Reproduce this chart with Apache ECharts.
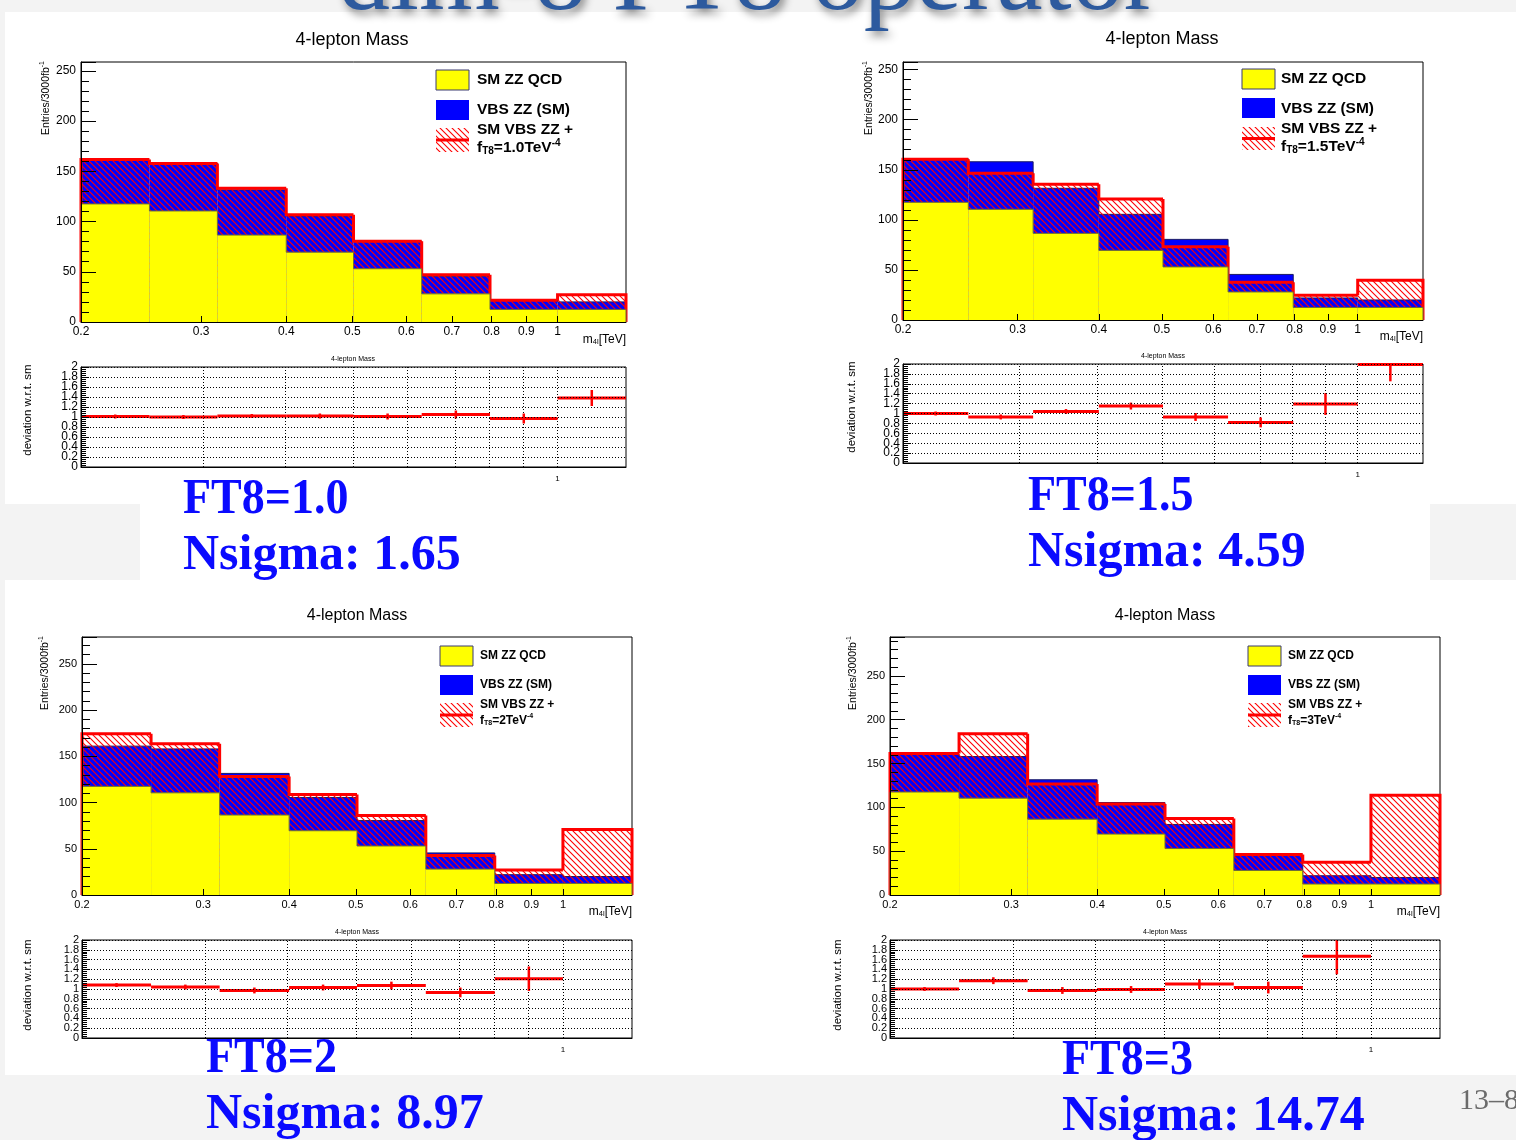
<!DOCTYPE html>
<html><head><meta charset="utf-8">
<script src="https://cdn.jsdelivr.net/npm/echarts@6/dist/echarts.min.js"></script>
<style>html,body{margin:0;padding:0;background:#fff}#c{width:1516px;height:1140px}</style>
</head><body><div id="c"></div>
<script>
// ---------------- data ----------------
const binEdges = [0.2, 0.252, 0.317, 0.4, 0.502, 0.632, 0.796, 1.0, 1.26];
const xTickValues = [0.2, 0.3, 0.4, 0.5, 0.6, 0.7, 0.8, 0.9, 1];
const xTickLabels = ['0.2', '0.3', '0.4', '0.5', '0.6', '0.7', '0.8', '0.9', '1'];
const ratioLabelsEven = [0, 0.4, 0.8, 1.2, 1.6, 2];
const ratioLabelsOdd  = [0.2, 0.6, 1, 1.4, 1.8];

const smZZQCD    = [117.5, 110.5, 86.5, 69.5, 53.0, 28.0, 12.5, 12.5];
const vbsZZSM    = [43.5, 47.5, 45.0, 36.0, 27.5, 17.5, 9.5, 7.5];
const vbsFT8_1p0 = [44.2, 47.2, 46.6, 37.1, 27.3, 19.1, 9.1, 14.7];
const vbsFT8_1p5 = [42.9, 36.1, 49.1, 51.3, 20.2, 9.6, 12.3, 27.1];
const vbsFT8_2   = [56.9, 53.0, 41.7, 39.2, 32.9, 14.6, 14.6, 58.3];
const vbsFT8_3   = [44.0, 73.5, 40.2, 34.3, 34.4, 18.2, 24.9, 101.2];

const ratioFT8_1p0 = [1.01, 1.00, 1.02, 1.02, 1.01, 1.05, 0.97, 1.38];
const errFT8_1p0   = [0.04, 0.04, 0.04, 0.05, 0.06, 0.08, 0.10, 0.16];
const ratioFT8_1p5 = [1.00, 0.93, 1.04, 1.15, 0.93, 0.82, 1.19, 1.99];
const errFT8_1p5   = [0.04, 0.05, 0.05, 0.07, 0.08, 0.10, 0.22, 0.34];
const ratioFT8_2   = [1.08, 1.04, 0.97, 1.03, 1.07, 0.93, 1.21, null];
const errFT8_2     = [0.04, 0.05, 0.06, 0.06, 0.08, 0.10, 0.25, null];
const ratioFT8_3   = [1.00, 1.17, 0.97, 0.99, 1.10, 1.03, 1.67, null];
const errFT8_3     = [0.04, 0.07, 0.07, 0.07, 0.10, 0.12, 0.37, null];

const ft8Values    = ['1.0', '1.5', '2', '3'];
const ft8Labels    = ['FT8=1.0', 'FT8=1.5', 'FT8=2', 'FT8=3'];
const nsigmaLabels = ['Nsigma: 1.65', 'Nsigma: 4.59', 'Nsigma: 8.97', 'Nsigma: 14.74'];
const legendNames  = ['SM ZZ QCD', 'VBS ZZ (SM)', 'SM VBS ZZ +'];
const plotTitle = '4-lepton Mass';
const slideTitle = 'dim-8 FT8 operator';
const pageNumber = '13\u20138';

// ---------------- layout ----------------
const SANS = "'Liberation Sans', Arial, Helvetica, sans-serif";
const SERIF = "'Liberation Serif', 'Times New Roman', serif";
const layout = [
  {main:[81,62,545,260], ratio:[81,367,545,100], fs:12, lfs:15.5, tfs:18, title:[352,40], ytitle:[45,61], rtitle:[353,359], rytitle:[28,410], xname:[626,339],
   leg:{bx:436, tx:477, yb:[70,100,128], yt:[80,110,130,147], hb:24}, big:[183,496,552]},
  {main:[903,62,520,258], ratio:[903,364,520,99], fs:12, lfs:15.5, tfs:18, title:[1162,39], ytitle:[868,61], rtitle:[1163,356], rytitle:[852,407], xname:[1423,336],
   leg:{bx:1242, tx:1281, yb:[69,98,127], yt:[79,109,129,146], hb:23}, big:[1028,493,549]},
  {main:[82,637,550,258], ratio:[82,940,550,98], fs:11, lfs:12, tfs:16, title:[357,616], ytitle:[44,636], rtitle:[357,932], rytitle:[28,985], xname:[632,911],
   leg:{bx:440, tx:480, yb:[646,675,703], yt:[656,685,705,720], hb:24}, big:[206,1055,1111]},
  {main:[890,637,550,258], ratio:[890,940,550,98], fs:11, lfs:12, tfs:16, title:[1165,616], ytitle:[852,636], rtitle:[1165,932], rytitle:[838,985], xname:[1440,911],
   leg:{bx:1248, tx:1288, yb:[646,675,703], yt:[656,685,705,720], hb:24}, big:[1062,1057,1113]}
];
const bsmSets = [vbsFT8_1p0, vbsFT8_1p5, vbsFT8_2, vbsFT8_3];
const ratioSets = [ratioFT8_1p0, ratioFT8_1p5, ratioFT8_2, ratioFT8_3];
const errSets = [errFT8_1p0, errFT8_1p5, errFT8_2, errFT8_3];

const L = Math.log10;
const X_MIN = L(binEdges[0]), X_MAX = L(binEdges[binEdges.length - 1]);
const fmtX = v => { const m = Math.pow(10, v); const k = xTickValues.findIndex(t => Math.abs(t - m) < 1e-3); return k >= 0 ? xTickLabels[k] : ''; };
const fmtR = v => String(Math.round(v * 10) / 10);

function makeHatch() {
  const c = document.createElement('canvas'); c.width = 6; c.height = 6;
  const g = c.getContext('2d'); g.strokeStyle = '#ff0000'; g.lineWidth = 1.1;
  g.beginPath(); g.moveTo(-1,-1); g.lineTo(7,7); g.moveTo(5,-1); g.lineTo(7,1); g.moveTo(-1,5); g.lineTo(1,7); g.stroke();
  return c;
}
const hatch = {image: makeHatch(), repeat: 'repeat'};

const grids = [], xAxes = [], yAxes = [], series = [], graphics = [];

function stepSeries(xi, yi, tops, opts) {
  const data = tops.map((v, i) => [L(binEdges[i]), L(binEdges[i+1]), v, i > 0 ? tops[i-1] : 0, i === tops.length - 1 ? 1 : 0]);
  return {
    type: 'custom', xAxisIndex: xi, yAxisIndex: yi, z: opts.z, silent: true, animation: false,
    encode: {x: [0, 1], y: 2}, data,
    renderItem: (params, api) => {
      const x0 = api.value(0), x1 = api.value(1), v = api.value(2), prev = api.value(3), last = api.value(4);
      const a = api.coord([x0, 0]), b = api.coord([x1, v]), pp = api.coord([x0, prev]);
      const ch = [];
      if (opts.fill) ch.push({type: 'rect', shape: {x: a[0], y: b[1], width: b[0] - a[0], height: a[1] - b[1]}, style: {fill: opts.fill}});
      if (opts.stroke) {
        const pts = [[a[0], pp[1]], [a[0], b[1]], [b[0], b[1]]];
        if (last) pts.push([b[0], a[1]]);
        ch.push({type: 'polyline', shape: {points: pts}, style: {stroke: opts.stroke, lineWidth: opts.lw, fill: 'none', lineJoin: 'miter'}});
      }
      return {type: 'group', children: ch};
    }
  };
}

function txt(x, y, text, o) {
  return {type: 'text', x, y, z: o.z != null ? o.z : 50, silent: true, rotation: o.rot || 0, scaleX: o.sx || 1,
    style: {text, fill: o.color || '#000', fontSize: o.size, fontFamily: o.family || SANS, fontWeight: o.weight || 'normal',
      align: o.align || 'left', verticalAlign: o.va || 'middle', rich: o.rich,
      textShadowColor: o.shadow ? 'rgba(0,0,0,0.45)' : undefined, textShadowBlur: o.shadow ? 8 : 0,
      textShadowOffsetX: o.shadow ? 3 : 0, textShadowOffsetY: o.shadow ? 5 : 0}};
}

// background of the slide
graphics.push({type: 'rect', z: -20, silent: true, shape: {x: 0, y: 0, width: 1516, height: 1140}, style: {fill: '#f3f3f3'}});
graphics.push({type: 'rect', z: -19, silent: true, shape: {x: 5, y: 12, width: 1511, height: 492}, style: {fill: '#ffffff'}});
graphics.push({type: 'rect', z: -19, silent: true, shape: {x: 140, y: 500, width: 1290, height: 85}, style: {fill: '#ffffff'}});
graphics.push({type: 'rect', z: -19, silent: true, shape: {x: 5, y: 580, width: 1511, height: 495}, style: {fill: '#ffffff'}});
graphics.push(txt(338, -18, slideTitle, {size: 104, family: SERIF, color: '#2d5a9e', shadow: true, z: 60}));
graphics.push(txt(1459, 1101, pageNumber, {size: 30, family: SERIF, color: '#6b6b6b'}));

layout.forEach((P, p) => {
  const gMain = grids.length;
  grids.push({left: P.main[0], top: P.main[1], width: P.main[2], height: P.main[3], show: true, borderColor: '#000', borderWidth: 1, backgroundColor: 'transparent'});
  const gRatio = grids.length;
  grids.push({left: P.ratio[0], top: P.ratio[1], width: P.ratio[2], height: P.ratio[3], show: true, borderColor: '#000', borderWidth: 1, backgroundColor: 'transparent'});

  const bsm = bsmSets[p];
  const qcdTop = smZZQCD.slice();
  const smTop = smZZQCD.map((q, i) => q + vbsZZSM[i]);
  const bsmTop = smZZQCD.map((q, i) => q + bsm[i]);
  const yMax = 1.6 * Math.max(...smTop, ...bsmTop);

  // main axes
  const xMain = xAxes.length;
  xAxes.push({gridIndex: gMain, type: 'value', position: 'bottom', min: X_MIN, max: X_MAX, z: 10,
    axisLine: {onZero: false, lineStyle: {color: '#000', width: 1}},
    axisTick: {show: true, inside: true, length: 6, customValues: xTickValues.map(L), lineStyle: {color: '#000'}},
    axisLabel: {customValues: xTickValues.map(L), formatter: fmtX, fontFamily: SANS, fontSize: P.fs, color: '#000', margin: 4},
    splitLine: {show: false}});
  const yMain = yAxes.length;
  yAxes.push({gridIndex: gMain, type: 'value', position: 'left', min: 0, max: yMax, interval: 10, z: 10,
    axisLine: {onZero: false, lineStyle: {color: '#000', width: 1}},
    axisTick: {show: true, inside: true, length: 8, lineStyle: {color: '#000'}},
    axisLabel: {formatter: v => (Math.abs(v % 50) < 1e-6 ? String(v) : ''), fontFamily: SANS, fontSize: P.fs, color: '#000', margin: 5, showMaxLabel: false},
    splitLine: {show: false}});
  yAxes.push({gridIndex: gMain, type: 'value', position: 'left', offset: 0, min: 0, max: yMax, interval: 50, z: 10,
    axisLine: {show: false, onZero: false}, axisLabel: {show: false},
    axisTick: {show: true, inside: true, length: 15, lineStyle: {color: '#000'}},
    splitLine: {show: false}});

  series.push(stepSeries(xMain, yMain, smTop, {fill: '#0000ff', stroke: '#1a1a66', lw: 1, z: 2}));
  series.push(stepSeries(xMain, yMain, bsmTop, {fill: hatch, z: 3}));
  series.push(stepSeries(xMain, yMain, bsmTop, {stroke: '#ff0000', lw: 3, z: 4}));
  series.push(stepSeries(xMain, yMain, qcdTop, {fill: '#ffff00', stroke: '#6b6b3a', lw: 1, z: 5}));

  // ratio axes
  const xR = xAxes.length;
  xAxes.push({gridIndex: gRatio, type: 'value', position: 'bottom', min: X_MIN, max: X_MAX, z: 10,
    axisLine: {onZero: false, lineStyle: {color: '#000', width: 1}}, axisTick: {show: false},
    axisLabel: {customValues: [L(1)], formatter: () => '1', fontFamily: SANS, fontSize: 8, color: '#000', margin: 8},
    splitLine: {show: false}});
  const yR = yAxes.length;
  // ticks, minor ticks, dotted grid and odd labels
  yAxes.push({gridIndex: gRatio, type: 'value', position: 'left', min: 0, max: 2, interval: 0.2, z: 10,
    axisLine: {onZero: false, lineStyle: {color: '#000', width: 1}},
    axisTick: {show: true, inside: true, length: 8, lineStyle: {color: '#000'}},
    minorTick: {show: true, splitNumber: 5, length: 5, lineStyle: {color: '#000'}},
    axisLabel: {customValues: ratioLabelsOdd, formatter: fmtR, fontFamily: SANS, fontSize: P.fs, color: '#000', margin: 3},
    splitLine: {show: true, lineStyle: {color: '#000', width: 1, type: [1, 2]}}});
  // even labels
  yAxes.push({gridIndex: gRatio, type: 'value', position: 'left', offset: 0, min: 0, max: 2, interval: 0.4, z: 10,
    axisLine: {show: false, onZero: false}, axisTick: {show: false},
    axisLabel: {formatter: fmtR, fontFamily: SANS, fontSize: P.fs, color: '#000', margin: 3, showMinLabel: true, showMaxLabel: true},
    splitLine: {show: false}});

  series.push({type: 'line', xAxisIndex: xR, yAxisIndex: yR, data: [], z: 1, silent: true, animation: false,
    markLine: {silent: true, symbol: 'none', animation: false, label: {show: false},
      lineStyle: {color: '#000', width: 1, type: [1, 2]},
      data: xTickValues.slice(1).map(v => ({xAxis: L(v)}))}});

  const rv = ratioSets[p], ev = errSets[p];
  const rData = [];
  rv.forEach((r, i) => { if (r != null) rData.push([L(binEdges[i]), L(binEdges[i+1]), r, ev[i]]); });
  series.push({type: 'custom', xAxisIndex: xR, yAxisIndex: yR, z: 6, silent: true, animation: false,
    encode: {x: [0, 1], y: 2}, data: rData,
    renderItem: (params, api) => {
      const lo = api.value(0), hi = api.value(1), r = api.value(2), e = api.value(3);
      const c = (lo + hi) / 2;
      const cl = v => Math.max(0, Math.min(2, v));
      const a = api.coord([lo, r]), b = api.coord([hi, r]);
      const t = api.coord([c, cl(r + e)]), u = api.coord([c, cl(r - e)]);
      return {type: 'group', children: [
        {type: 'line', shape: {x1: a[0], y1: a[1], x2: b[0], y2: b[1]}, style: {stroke: '#ff0000', lineWidth: 3}},
        {type: 'line', shape: {x1: t[0], y1: t[1], x2: u[0], y2: u[1]}, style: {stroke: '#ff0000', lineWidth: 2.5}}
      ]};
    }});

  // texts
  graphics.push(txt(P.title[0], P.title[1], plotTitle, {size: P.tfs, align: 'center'}));
  graphics.push(txt(P.rtitle[0], P.rtitle[1], plotTitle, {size: 7, align: 'center'}));
  graphics.push(txt(P.ytitle[0], P.ytitle[1], '{a|Entries/3000fb}{s|-1}', {size: 10.5, align: 'right', rot: Math.PI / 2,
    rich: {a: {fontSize: 10.5, fontFamily: SANS, fill: '#000', color: '#000', lineHeight: 13, verticalAlign: 'bottom'},
           s: {fontSize: 7, fontFamily: SANS, fill: '#000', color: '#000', lineHeight: 8, verticalAlign: 'top'}}}));
  graphics.push(txt(P.rytitle[0], P.rytitle[1], 'deviation w.r.t. sm', {size: 11.5, align: 'center', rot: Math.PI / 2}));
  graphics.push(txt(P.xname[0], P.xname[1], '{a|m}{b|4l}{a|[TeV]}', {size: 12, align: 'right',
    rich: {a: {fontSize: 12, fontFamily: SANS, fill: '#000', color: '#000', lineHeight: 14, verticalAlign: 'bottom'},
           b: {fontSize: 7.5, fontFamily: SANS, fill: '#000', color: '#000', lineHeight: 7, verticalAlign: 'bottom'}}}));

  // legend
  const G = P.leg, bw = 33;
  graphics.push({type: 'rect', z: 40, silent: true, shape: {x: G.bx, y: G.yb[0], width: bw, height: 20}, style: {fill: '#ffff00', stroke: '#3a3a70', lineWidth: 1}});
  graphics.push({type: 'rect', z: 40, silent: true, shape: {x: G.bx, y: G.yb[1], width: bw, height: 20}, style: {fill: '#0000ff'}});
  graphics.push({type: 'rect', z: 40, silent: true, shape: {x: G.bx, y: G.yb[2], width: bw, height: G.hb}, style: {fill: hatch}});
  graphics.push({type: 'line', z: 41, silent: true, shape: {x1: G.bx, y1: G.yb[2] + G.hb / 2, x2: G.bx + bw, y2: G.yb[2] + G.hb / 2}, style: {stroke: '#ff0000', lineWidth: 3}});
  graphics.push(txt(G.tx, G.yt[0], legendNames[0], {size: P.lfs, weight: 'bold'}));
  graphics.push(txt(G.tx, G.yt[1], legendNames[1], {size: P.lfs, weight: 'bold'}));
  graphics.push(txt(G.tx, G.yt[2], legendNames[2], {size: P.lfs, weight: 'bold'}));
  const rs = {fontFamily: SANS, fontWeight: 'bold', fill: '#000', color: '#000'};
  const subSize = Math.round(P.lfs * 0.62);
  graphics.push(txt(G.tx, G.yt[3], '{a|f}{b|T8}{a|=' + ft8Values[p] + 'TeV}{c|-4}', {size: P.lfs, weight: 'bold',
    rich: {a: Object.assign({fontSize: P.lfs, lineHeight: P.lfs + 2, verticalAlign: 'bottom'}, rs),
           b: Object.assign({fontSize: subSize, lineHeight: subSize, verticalAlign: 'bottom'}, rs),
           c: Object.assign({fontSize: subSize, lineHeight: subSize, verticalAlign: 'top'}, rs)}}));

  // big annotation text
  graphics.push(txt(P.big[0], P.big[1] + 4, ft8Labels[p], {size: 50, family: SERIF, weight: 'bold', color: '#0a0aff', sx: 0.92}));
  graphics.push(txt(P.big[0], P.big[2] + 4, nsigmaLabels[p], {size: 50, family: SERIF, weight: 'bold', color: '#0a0aff'}));
});

const chart = echarts.init(document.getElementById('c'), null, {renderer: 'canvas'});
chart.setOption({
  animation: false,
  backgroundColor: '#ffffff',
  grid: grids, xAxis: xAxes, yAxis: yAxes, series,
  graphic: {elements: graphics}
});
</script>
</body></html>
